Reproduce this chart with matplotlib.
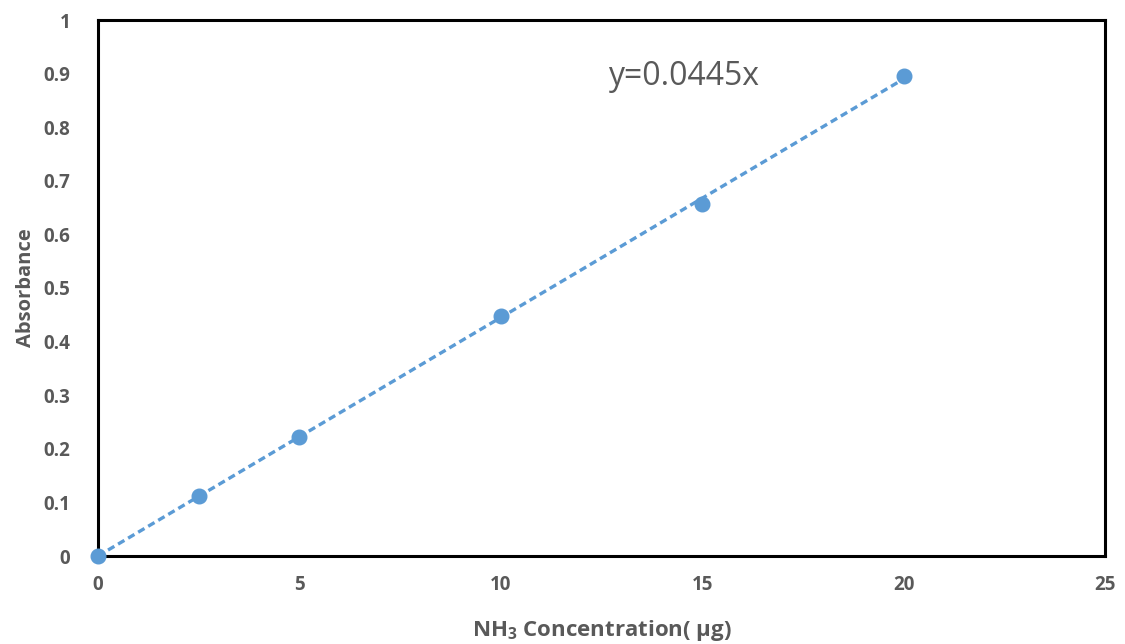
import matplotlib
matplotlib.use("Agg")
import matplotlib.pyplot as plt
import numpy as np
from matplotlib.ticker import FuncFormatter, MultipleLocator

conc = [0, 2.5, 5, 10, 15, 20]
absorb = [0.0, 0.112, 0.222, 0.447, 0.657, 0.895]
slope = 0.0445
fit_x = [0, 20]
equation = "y=0.0445x"

plt.rcParams['font.family'] = ['Open Sans', 'DejaVu Sans']
plt.rcParams['mathtext.fontset'] = 'custom'
plt.rcParams['mathtext.bf'] = 'Open Sans:bold'
plt.rcParams['mathtext.rm'] = 'Open Sans'

grey = '#595959'
blue = '#5B9BD5'

fig = plt.figure(figsize=(11.25, 6.44), dpi=100)
ax = fig.add_axes([98/1125, 88/644, 1007/1125, 536/644])

fx = np.array(fit_x)
ax.plot(fx, slope * fx, linestyle=(0, (2.2, 1.3)), color=blue, lw=2.4, zorder=2)
ax.plot(conc, absorb, 'o', color=blue, markersize=10.5, zorder=3, clip_on=False)

ax.set_xlim(0, 25)
ax.set_ylim(0, 1)
ax.xaxis.set_major_locator(MultipleLocator(5))
ax.yaxis.set_major_locator(MultipleLocator(0.1))
fmt = FuncFormatter(lambda v, p: ('%g' % round(v, 2)))
ax.xaxis.set_major_formatter(fmt)
ax.yaxis.set_major_formatter(fmt)
ax.tick_params(length=0, labelsize=13.5, labelcolor=grey, pad=0)
ax.tick_params(axis='y', pad=20)
ax.tick_params(axis='x', pad=14)
for lab in ax.get_xticklabels() + ax.get_yticklabels():
    lab.set_fontweight('bold')
for s in ax.spines.values():
    s.set_linewidth(2.2)
    s.set_color('black')

ax.set_ylabel('Absorbance', fontsize=14.5, fontweight='bold', color=grey, labelpad=5)
ax.set_xlabel(r'$\mathbf{NH_3}$ Concentration( μg)', fontsize=16, fontweight='bold', color=grey, labelpad=16)

ax.text(12.65, 0.895, equation, fontsize=23, color=grey, va='center', ha='left')

fig.savefig('out.png', dpi=100)
